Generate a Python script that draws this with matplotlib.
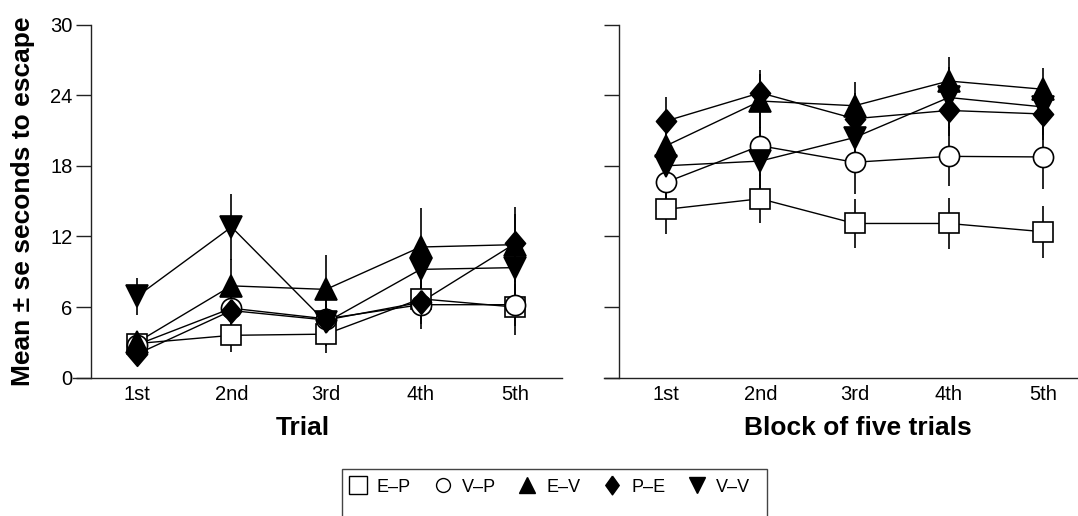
import matplotlib
matplotlib.use("Agg")
import matplotlib.pyplot as plt
from matplotlib.lines import Line2D
from matplotlib.patches import Rectangle

plt.rcParams["font.family"] = ["Liberation Sans", "DejaVu Sans"]

# ---- data -------------------------------------------------------------
stages = ["1st", "2nd", "3rd", "4th", "5th"]
groups = ["E–P", "V–P", "E–V", "P–E", "V–V"]
y_ticks = [0, 6, 12, 18, 24, 30]

# single trials (left panel): means and standard errors
trial_ep_mean = [2.9, 3.6, 3.7, 6.7, 6.0]
trial_ep_se = [0.6, 1.4, 1.6, 1.8, 2.4]
trial_vp_mean = [2.8, 5.9, 5.0, 6.2, 6.2]
trial_vp_se = [0.5, 1.9, 1.3, 2.1, 1.8]
trial_ev_mean = [3.0, 7.8, 7.5, 11.1, 11.3]
trial_ev_se = [0.6, 2.3, 2.9, 3.3, 3.2]
trial_pe_mean = [2.0, 5.7, 4.9, 6.4, 11.4]
trial_pe_se = [0.4, 1.5, 1.2, 1.8, 2.5]
trial_vv_mean = [6.9, 12.8, 4.7, 9.2, 9.35]
trial_vv_se = [1.6, 2.8, 2.0, 2.5, 2.6]

# blocks of five trials (right panel)
block_ep_mean = [14.3, 15.2, 13.1, 13.1, 12.4]
block_ep_se = [2.1, 2.1, 2.1, 2.2, 2.2]
block_vp_mean = [16.6, 19.7, 18.3, 18.8, 18.75]
block_vp_se = [2.5, 2.6, 2.7, 2.5, 2.7]
block_ev_mean = [19.7, 23.5, 23.1, 25.2, 24.5]
block_ev_se = [2.2, 2.3, 2.0, 2.0, 1.8]
block_pe_mean = [21.8, 24.2, 22.0, 22.7, 22.4]
block_pe_se = [2.0, 1.9, 2.2, 2.2, 2.2]
block_vv_mean = [18.0, 18.4, 20.4, 23.8, 23.0]
block_vv_se = [2.3, 2.9, 2.5, 2.6, 2.4]

# ---- styling ----------------------------------------------------------
diamond = [(0, 1), (0.85, 0), (0, -1), (-0.85, 0), (0, 1)]
legend_diamond = [(0, 1), (0.72, 0), (0, -1), (-0.72, 0), (0, 1)]
styles = {
    "E–P": dict(marker="s", ms=14, mfc="white"),
    "V–P": dict(marker="o", ms=14.5, mfc="white"),
    "E–V": dict(marker="^", ms=16, mfc="black"),
    "P–E": dict(marker=diamond, ms=17, mfc="black"),
    "V–V": dict(marker="v", ms=16, mfc="black"),
}
legend_marks = {
    "E–P": ("s", 12.5),
    "V–P": ("o", 10),
    "E–V": ("^", 11.5),
    "P–E": (legend_diamond, 13.5),
    "V–V": ("v", 11.5),
}
draw_order = ["E–P", "V–P", "E–V", "V–V", "P–E"]

trial_series = {
    "E–P": (trial_ep_mean, trial_ep_se),
    "V–P": (trial_vp_mean, trial_vp_se),
    "E–V": (trial_ev_mean, trial_ev_se),
    "P–E": (trial_pe_mean, trial_pe_se),
    "V–V": (trial_vv_mean, trial_vv_se),
}
block_series = {
    "E–P": (block_ep_mean, block_ep_se),
    "V–P": (block_vp_mean, block_vp_se),
    "E–V": (block_ev_mean, block_ev_se),
    "P–E": (block_pe_mean, block_pe_se),
    "V–V": (block_vv_mean, block_vv_se),
}

W, H = 1078, 516
fig = plt.figure(figsize=(W / 100, H / 100), dpi=100)

axis_color = "#222222"


def px_box(x0, x1, ytop, ybot):
    return [x0 / W, 1 - ybot / H, (x1 - x0) / W, (ybot - ytop) / H]


def draw_panel(ax, series, xlim, spine_x, show_labels):
    x = list(range(1, len(stages) + 1))
    for name in draw_order:
        mean, se = series[name]
        st = styles[name]
        ax.errorbar(x, mean, yerr=se, fmt="none", ecolor="black",
                    elinewidth=1.2, capsize=0, zorder=1)
        ax.plot(x, mean, color="black", lw=1.0, zorder=2)
        ax.plot(x, mean, ls="none", marker=st["marker"], ms=st["ms"],
                mfc=st["mfc"], mec="black", mew=1.2, zorder=3)
    ax.set_xlim(*xlim)
    ax.set_ylim(0, 30)
    ax.set_xticks(x)
    ax.set_xticklabels(stages)
    ax.set_yticks(y_ticks)
    ax.set_yticklabels([str(v) for v in y_ticks] if show_labels else [])
    for s in ("top", "right"):
        ax.spines[s].set_visible(False)
    ax.spines["left"].set_position(("data", spine_x))
    for s in ("left", "bottom"):
        ax.spines[s].set_color(axis_color)
        ax.spines[s].set_linewidth(1.0)
    ax.tick_params(axis="x", length=0, pad=5, labelsize=14.5)
    ax.tick_params(axis="y", length=10.8, width=1.0, color=axis_color,
                   direction="out", pad=2.5, labelsize=14.5)
    ax.patch.set_visible(False)


axL = fig.add_axes(px_box(73, 562, 24.5, 377.7))
axR = fig.add_axes(px_box(604, 1078, 24.5, 377.7))
draw_panel(axL, trial_series, (0.323, 5.497), 0.513, True)
draw_panel(axR, block_series, (0.342, 5.371), 0.501, False)

fig.text(23 / W, 1 - 201 / H, "Mean ± se seconds to escape", rotation=90,
         ha="center", va="center", fontsize=19, fontweight="bold")
fig.text(303 / W, 1 - 428 / H, "Trial", ha="center", va="center",
         fontsize=19, fontweight="bold")
fig.text(858 / W, 1 - 428 / H, "Block of five trials", ha="center",
         va="center", fontsize=19, fontweight="bold")

# legend
handles = [Line2D([], [], ls="none", marker=legend_marks[g][0],
                  ms=legend_marks[g][1], mfc=styles[g]["mfc"], mec="black",
                  mew=1.0) for g in groups]
fig.legend(handles, groups, ncol=5, loc="center left",
           bbox_to_anchor=(349 / W, 1 - 487 / H), frameon=False,
           fontsize=13, handlelength=1.0, handletextpad=0.55,
           columnspacing=1.25, borderpad=0.0, borderaxespad=0.0)
fig.patches.append(Rectangle((342 / W, 1 - 540 / H), (767 - 342) / W,
                             (540 - 469) / H, transform=fig.transFigure,
                             fill=False, ec="#444444", lw=1.0))

fig.savefig("out.png", dpi=100)
